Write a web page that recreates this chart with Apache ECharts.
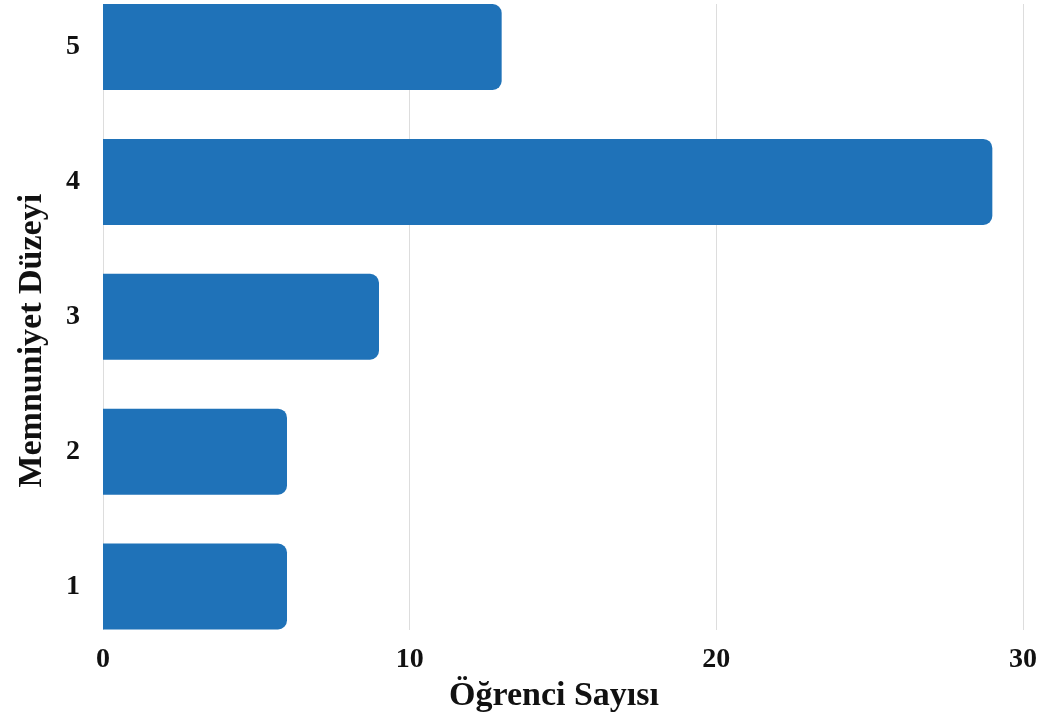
<!DOCTYPE html>
<html>
<head>
<meta charset="utf-8">
<script src="https://cdn.jsdelivr.net/npm/echarts@6/dist/echarts.min.js"></script>
<style>
html,body{margin:0;padding:0;background:#fff;}
#chart{width:1046px;height:718px;}
</style>
</head>
<body>
<div id="chart"></div>
<script>
// Data
const levels = ['1', '2', '3', '4', '5'];
const counts = [6, 6, 9, 29, 13];
const xTicks = [0, 10, 20, 30];
const xTitle = 'Öğrenci Sayısı';
const yTitle = 'Memnuniyet Düzeyi';

const FONT = '"Liberation Serif", "Times New Roman", serif';
const chart = echarts.init(document.getElementById('chart'), null, {renderer: 'canvas'});

const xMin = xTicks[0], xMax = xTicks[xTicks.length - 1];

chart.setOption({
  animation: false,
  backgroundColor: '#ffffff',
  grid: [
    {left: 103, right: 23, top: 4, bottom: 88},
    {left: 103, right: 23, top: 47, bottom: 131.5}
  ],
  xAxis: [{
    gridIndex: 0,
    type: 'value',
    min: xMin,
    max: xMax,
    interval: 10,
    name: xTitle,
    nameLocation: 'middle',
    nameGap: 46,
    nameTextStyle: {fontFamily: FONT, fontWeight: 'bold', fontSize: 34, color: '#111', padding: [0, 18, 0, 0]},
    axisLine: {show: false},
    axisTick: {show: false},
    axisLabel: {fontFamily: FONT, fontWeight: 'bold', fontSize: 28, color: '#111', margin: 16},
    splitLine: {show: true, lineStyle: {color: '#dddddd', width: 1}}
  }, {
    gridIndex: 1,
    type: 'value',
    min: xMin,
    max: xMax,
    interval: 10,
    show: false
  }],
  yAxis: [{
    gridIndex: 0,
    type: 'value',
    show: false
  }, {
    gridIndex: 1,
    type: 'category',
    data: levels,
    boundaryGap: false,
    name: yTitle,
    nameLocation: 'middle',
    nameGap: 54,
    nameRotate: 90,
    nameTextStyle: {fontFamily: FONT, fontWeight: 'bold', fontSize: 34, color: '#111', padding: [0, 48, 0, 0]},
    axisLine: {show: false},
    axisTick: {show: false},
    axisLabel: {fontFamily: FONT, fontWeight: 'bold', fontSize: 28, color: '#111', margin: 23},
    splitLine: {show: false}
  }],
  series: [{
    type: 'bar',
    xAxisIndex: 1,
    yAxisIndex: 1,
    barWidth: 86,
    clip: false,
    data: counts,
    itemStyle: {color: '#1f72b8', borderRadius: [0, 9, 9, 0]}
  }]
});
</script>
</body>
</html>
